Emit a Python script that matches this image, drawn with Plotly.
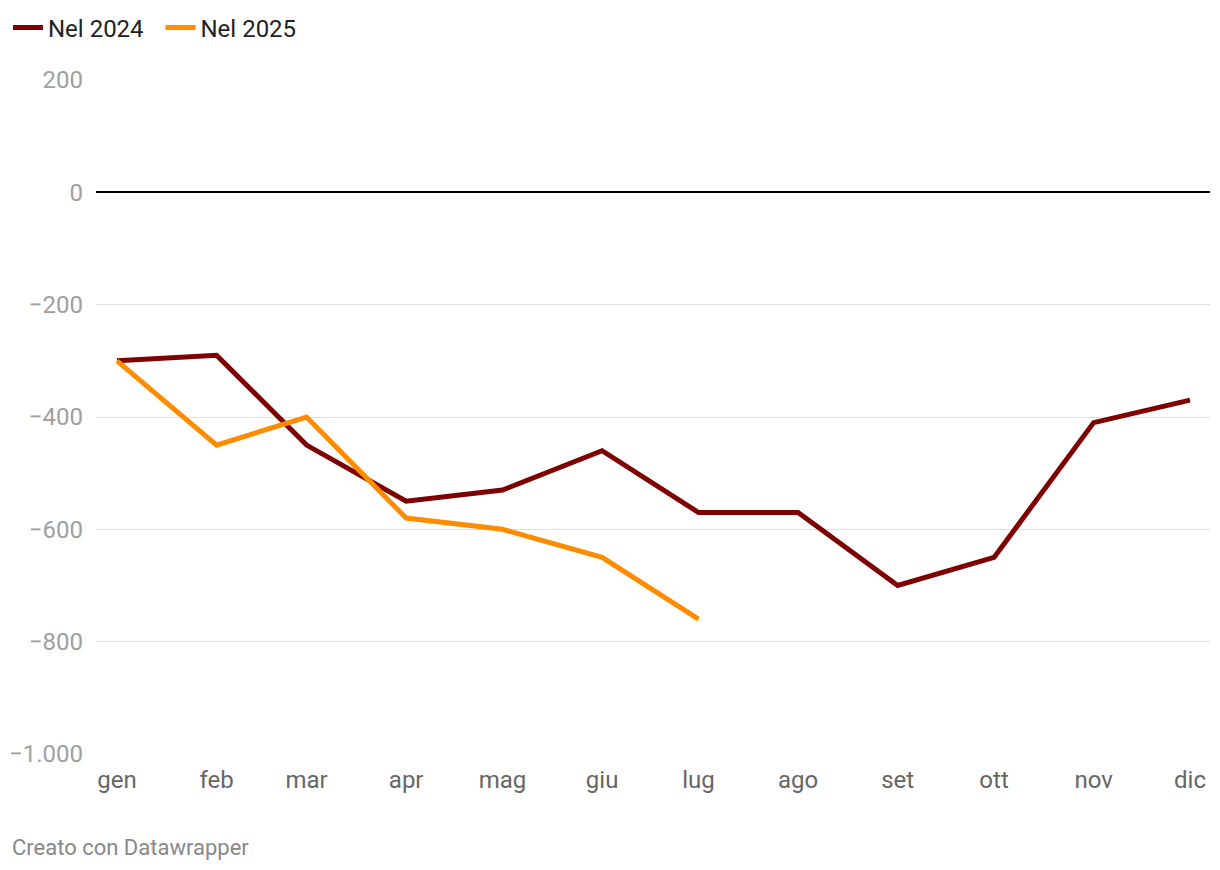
import plotly.graph_objects as go

months = ["gen", "feb", "mar", "apr", "mag", "giu", "lug", "ago", "set", "ott", "nov", "dic"]
month_dates = ["2025-01-01", "2025-02-01", "2025-03-01", "2025-04-01", "2025-05-01", "2025-06-01",
               "2025-07-01", "2025-08-01", "2025-09-01", "2025-10-01", "2025-11-01", "2025-12-01"]
vals_2024 = [-300, -290, -450, -550, -530, -460, -570, -570, -700, -650, -410, -370]
vals_2025 = [-300, -450, -400, -580, -600, -650, -760]
y_ticks = [200, 0, -200, -400, -600, -800, -1000]

W, H = 1212, 862  # page body has an 8px offset
fig = go.Figure()
fig.add_trace(go.Scatter(x=month_dates, y=vals_2024, mode="lines", name="Nel 2024\u00a0\u00a0",
                         line=dict(color="#7f0000", width=5)))
fig.add_trace(go.Scatter(x=month_dates[:len(vals_2025)], y=vals_2025, mode="lines", name="Nel 2025",
                         line=dict(color="#ff8c00", width=5)))

fig.update_layout(
    width=W, height=H,
    margin=dict(l=88, r=10, t=72, b=116, autoexpand=False),
    paper_bgcolor="white", plot_bgcolor="white",
    font=dict(family="Roboto", size=24, color="#222"),
    separators=",.",
    showlegend=True,
    legend=dict(orientation="h", x=-0.003, xref="container", xanchor="left",
                y=1 - 20 / H, yref="container", yanchor="middle",
                font=dict(size=24, color="#222"), itemwidth=30, tracegroupgap=0),
    xaxis=dict(type="date", range=["2024-12-25 11:00", "2025-12-07 05:20"],
               tickvals=month_dates, ticktext=months,
               showgrid=False, zeroline=False, showline=False, ticks="",
               tickfont=dict(size=24, color="#666"), ticklabelstandoff=9,
               automargin=False, fixedrange=True),
    yaxis=dict(range=[-1000, 200], tickvals=y_ticks, showgrid=True,
               gridcolor="#e0e0e0", gridwidth=1, zeroline=True,
               zerolinecolor="#000000", zerolinewidth=2, showline=False,
               ticks="", tickfont=dict(size=24, color="#a0a0a0"),
               ticklabelstandoff=12, tickformat=",d", automargin=False,
               fixedrange=True),
    annotations=[dict(text="Creato con Datawrapper", xref="paper", yref="paper",
                      x=(10 - 96) / 1114, y=(754 - 847) / 674, xanchor="left",
                      yanchor="middle", showarrow=False,
                      font=dict(size=22, color="#888"))],
)

fig.write_html("out.html")
